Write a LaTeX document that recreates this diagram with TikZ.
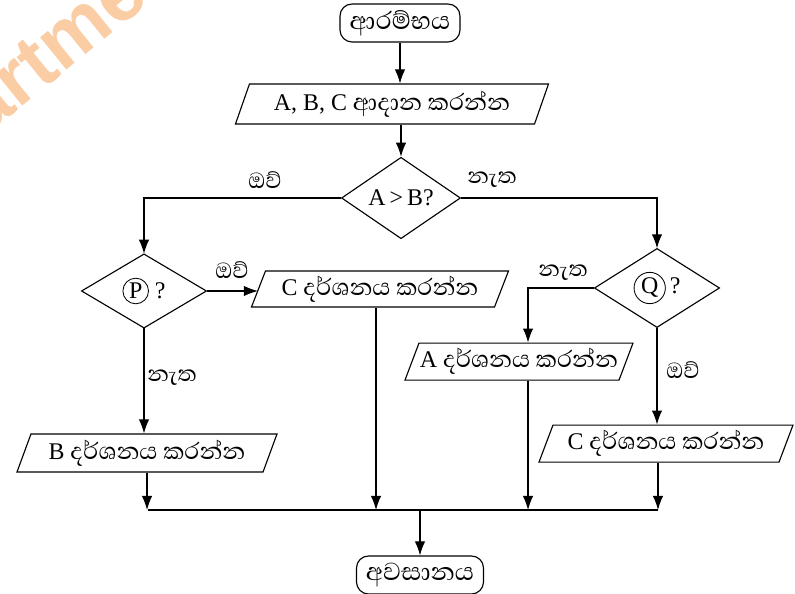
\documentclass[tikz,border=0pt]{standalone}
\usepackage{fontspec}
\setmainfont{Liberation Serif}
\newfontfamily\sinhalafont[Script=Sinhala,Scale=1.25]{Abhaya Libre}
\newfontfamily\markfont{Liberation Sans}
\usetikzlibrary{arrows.meta,shapes.geometric}
\definecolor{wmark}{RGB}{250,205,165}
\newcommand{\si}[1]{{\sinhalafont #1}}
\newcommand{\circledletter}[1]{\tikz[baseline=(c.base)]\node[draw, circle, minimum width=0pt, minimum height=0pt, inner sep=1.3pt, line width=0.6pt] (c) {#1};}
\tikzset{
	terminal/.style={draw, rounded corners=0.3cm, minimum width=3cm, minimum height=0.95cm, font=\fontsize{18}{21}\selectfont},
	io/.style={draw, trapezium, trapezium left angle=62, trapezium right angle=118, trapezium stretches body, minimum height=0.95cm, inner sep=0pt, font=\fontsize{17}{20}\selectfont},
	decision/.style={draw, diamond, inner sep=0pt, font=\fontsize{17}{20}\selectfont},
	branch/.style={font=\fontsize{16}{19}\selectfont, inner sep=1pt},
	arrow/.style={-{Latex[length=3.5mm,width=2.6mm]}},
}

\begin{document}
\begin{tikzpicture}[line width=0.8pt]
			%%%%% START %%%%%
			
			\useasboundingbox (0, 0) rectangle (19.875, 14.85);
			\clip (0, 0) rectangle (19.875, 14.85);
			
			\node[wmark, rotate=39, font=\markfont\bfseries\fontsize{56}{56}\selectfont] (mark) at (1.3, 13.6) {artme};
			
			\node[terminal] (start) at (10.0, 14.275) {\si{ආරම්භය}};
			\node[io, minimum width=7.825cm, minimum height=1cm] (input) at (9.8, 12.25) {A, B, C \si{ආදාන කරන්න}};
			\node[decision, minimum width=2.975cm, minimum height=1.75cm] (dAB) at (10.025, 9.9) {A\,>\,B?};
			
			\node[decision, minimum width=3.125cm, minimum height=1.85cm] (dP) at (3.6, 7.575) {\circledletter{P}\ ?};
			\node[decision, minimum width=3.125cm, minimum height=1.75cm] (dQ) at (16.425, 7.65) {\circledletter{Q}\,?};
			
			\node[io, minimum width=6.425cm, minimum height=0.9cm] (outC1) at (9.5, 7.625) {C \si{දර්ශනය කරන්න}};
			\node[io, minimum width=5.7cm, minimum height=0.925cm] (outA) at (12.975, 5.81) {A \si{දර්ශනය කරන්න}};
			\node[io, minimum width=6.5cm] (outB) at (3.675, 3.525) {B \si{දර්ශනය කරන්න}};
			\node[io, minimum width=6.35cm, minimum height=0.925cm] (outC2) at (16.65, 3.76) {C \si{දර්ශනය කරන්න}};
			
			\node[terminal, minimum width=3.175cm] (end) at (10.5, 0.475) {\si{අවසානය}};
			
			\coordinate (mergeL) at (3.7, 2.1);
			\coordinate (mergeR) at (16.45, 2.1);
			
			\draw[arrow] (start) -- (input.north -| start);
			\draw[arrow] (input.south -| dAB) -- (dAB.north);
			
			\draw[arrow] (dAB.west) -| (dP.north);
			\draw[arrow] (dAB.east) -| (dQ.north);
			\node[branch] (yesAB) at (6.625, 10.35) {\si{ඔව්}};
			\node[branch] (noAB) at (12.3, 10.35) {\si{නැත}};
			
			\draw[arrow] (dP.east) -- (dP.east -| outC1.west);
			\draw[arrow] (dP.south) -- (dP.south |- outB.north);
			\node[branch] (yesP) at (5.8, 8.1) {\si{ඔව්}};
			\node[branch] (noP) at (4.3, 5.4) {\si{නැත}};
			
			\draw[arrow] (dQ.west) -| ([xshift=2.25mm]outA.north);
			\draw[arrow] (dQ.south) -- (dQ.south |- outC2.north);
			\node[branch] (noQ) at (14.075, 8.025) {\si{නැත}};
			\node[branch] (yesQ) at (17.075, 5.6) {\si{ඔව්}};
			
			\draw (mergeL) -- (mergeR);
			\draw[arrow] (outB.south) -- (outB.south |- mergeL);
			\draw[arrow] ([xshift=-1mm]outC1.south) -- ([xshift=-1mm]outC1.south |- mergeL);
			\draw[arrow] ([xshift=2.25mm]outA.south) -- ([xshift=2.25mm]outA.south |- mergeL);
			\draw[arrow] (mergeR |- outC2.south) -- (mergeR);
			\draw[arrow] (end.north |- mergeL) -- (end.north);
			
			%%%%% END %%%%%
		\end{tikzpicture}
\end{document}
